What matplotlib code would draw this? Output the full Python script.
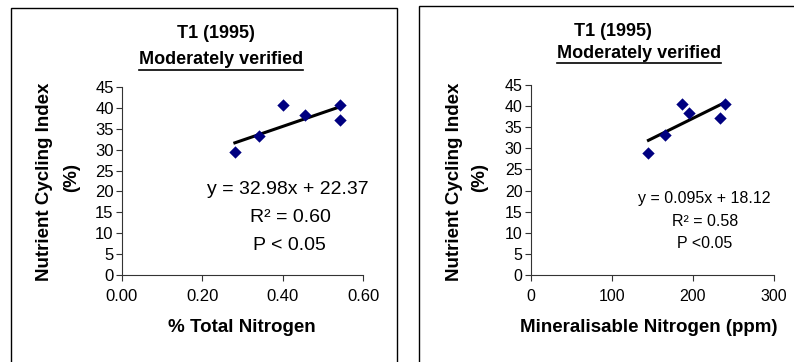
import numpy as np
import matplotlib
matplotlib.use("Agg")
import matplotlib.pyplot as plt
from matplotlib.patches import Rectangle
from matplotlib.lines import Line2D

plt.rcParams['font.family'] = ['Liberation Sans', 'DejaVu Sans']

# NCI against % total nitrogen
tn = [0.281, 0.342, 0.400, 0.456, 0.543, 0.543]
nci_tn = [29.4, 33.2, 40.7, 38.3, 40.8, 37.2]
tn_fit = (32.98, 22.37)

# NCI against mineralisable nitrogen
mn = [145, 166, 187, 195, 233, 239]
nci_mn = [28.8, 33.1, 40.6, 38.3, 37.1, 40.6]
mn_fit = (0.095, 18.12)

W, H = 794, 362
fig = plt.figure(figsize=(W / 100, H / 100), dpi=100)


def fx(px):
    return px / W


def fy(py):
    return 1 - py / H


# outer chart frames
fig.add_artist(Rectangle((fx(11), fy(400)), fx(397 - 11), (400 - 8) / H,
                         transform=fig.transFigure, fill=False, lw=1, ec='black'))
fig.add_artist(Rectangle((fx(419), fy(400)), fx(820 - 419), (400 - 6) / H,
                         transform=fig.transFigure, fill=False, lw=1, ec='black'))


def panel(x0, x1, ytop, ybot, xs, ys, fit, xlim, xticks, xticklabels, tick_fs):
    ax = fig.add_axes([fx(x0), fy(ybot), fx(x1 - x0), (ybot - ytop) / H])
    ax.set_xlim(*xlim)
    ax.set_ylim(0, 45)
    for s in ['top', 'right']:
        ax.spines[s].set_visible(False)
    for s in ['left', 'bottom']:
        ax.spines[s].set_color('#333333')
        ax.spines[s].set_linewidth(0.8)
    ax.set_yticks(np.arange(0, 46, 5))
    ax.set_xticks(xticks)
    ax.set_xticklabels(xticklabels)
    ax.tick_params(axis='both', direction='out', length=4, width=0.8,
                   color='#333333', labelsize=tick_fs, pad=2)
    ax.tick_params(axis='x', pad=6)
    ax.scatter(xs, ys, marker='D', s=6.3 ** 2, color='#000080', lw=0, zorder=3,
               clip_on=False)
    xl = np.array([min(xs), max(xs)])
    ax.plot(xl, fit[0] * xl + fit[1], color='black', lw=2.2, zorder=2)
    ax.patch.set_alpha(0)
    return ax


panel(122, 363, 87, 275, tn, nci_tn, tn_fit, (0, 0.6),
      [0, 0.2, 0.4, 0.6], ['0.00', '0.20', '0.40', '0.60'], 12)
panel(531, 774, 85, 275, mn, nci_mn, mn_fit, (0, 300),
      [0, 100, 200, 300], ['0', '100', '200', '300'], 11.5)

titles = [(216, 33, 221, 60), (613, 32, 639, 53)]
subs = []
for tx, ty, sx, sy in titles:
    fig.text(fx(tx), fy(ty), 'T1 (1995)', ha='center', va='center',
             fontsize=13, fontweight='bold')
    subs.append(fig.text(fx(sx), fy(sy), 'Moderately verified', ha='center',
                         va='center', fontsize=13, fontweight='bold'))

for cx in [45, 455]:
    fig.text(fx(cx), fy(182), 'Nutrient Cycling Index', rotation=90,
             ha='center', va='center', fontsize=13.5, fontweight='bold')
for cx in [72, 480]:
    fig.text(fx(cx), fy(177), '(%)', rotation=90,
             ha='center', va='center', fontsize=13.5, fontweight='bold')

fig.text(fx(242), fy(328), '% Total Nitrogen', ha='center', va='center',
         fontsize=13.5, fontweight='bold')
fig.text(fx(649), fy(328), 'Mineralisable Nitrogen (ppm)', ha='center',
         va='center', fontsize=13.5, fontweight='bold')

# regression statistics
fig.text(fx(288), fy(190), f'y = {tn_fit[0]:.2f}x + {tn_fit[1]:.2f}',
         ha='center', va='center', fontsize=14)
fig.text(fx(290), fy(218), 'R² = 0.60', ha='center', va='center', fontsize=14)
fig.text(fx(289), fy(245), 'P < 0.05', ha='center', va='center', fontsize=14)

fig.text(fx(704), fy(199), f'y = {mn_fit[0]:.3f}x + {mn_fit[1]:.2f}',
         ha='center', va='center', fontsize=11.5)
fig.text(fx(705), fy(222), 'R² = 0.58', ha='center', va='center', fontsize=11.5)
fig.text(fx(705), fy(243), 'P <0.05', ha='center', va='center', fontsize=11.5)

# underline the subtitles
fig.canvas.draw()
r = fig.canvas.get_renderer()
for t in subs:
    bb = t.get_window_extent(r)
    y = bb.y0 - 1
    fig.add_artist(Line2D([bb.x0 / W, bb.x1 / W], [y / H, y / H],
                          transform=fig.transFigure, color='black', lw=1.2))

fig.savefig('out.png', dpi=100)
